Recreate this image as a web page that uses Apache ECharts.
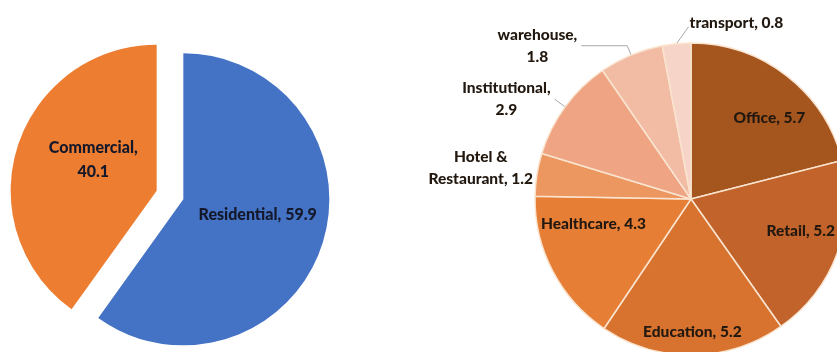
<!DOCTYPE html>
<html>
<head>
<meta charset="utf-8">
<script src="https://cdn.jsdelivr.net/npm/echarts@6/dist/echarts.min.js"></script>
<style>
  html, body { margin: 0; padding: 0; background: #ffffff; }
  #chart { width: 837px; height: 352px; }
</style>
</head>
<body>
<div id="chart"></div>
<script>
// Split of floor area by building sector
const sectorNames = ['Residential', 'Commercial'];
const sectorShares = [59.9, 40.1];
const sectorColors = ['#4472C4', '#ED7D31'];

// Commercial share broken down by building type
const typeNames = ['Office', 'Retail', 'Education', 'Healthcare', 'Hotel & Restaurant', 'Institutional', 'warehouse', 'transport'];
const typeShares = [5.7, 5.2, 5.2, 4.3, 1.2, 2.9, 1.8, 0.8];
const typeColors = ['#A5561F', '#C1632A', '#D8732F', '#E77E36', '#EC9660', '#EFA583', '#F1BCA3', '#F6D5C8'];
// true: label sits inside the slice, false: label sits outside with a leader line
const typeInside = [true, true, true, true, false, false, false, false];

const FONT = 'Lato, "Open Sans", sans-serif';
const WEIGHT = 900;
const TEXT_DARK = '#22180f';

// small label nudges (px) so the text sits in the open part of each slice
const sectorLabelNudge = [[2, -8], [9, -8]];
const typeLabelNudge = [[6, 12], [-1, -9], [0, 15], [7, -30], [0, -7], [0, 0], [0, 0], [0, 0]];

function labelLines(name, value, sep) {
  // outside labels are stacked over two lines where they are long
  if (name === 'Hotel & Restaurant') return ['Hotel &', 'Restaurant, ' + value];
  if (sep) return [name + ',', String(value)];
  return [name + ', ' + value];
}
const wrapOutside = { 'Hotel & Restaurant': false, 'Institutional': true, 'warehouse': true, 'transport': false };

// leader line lengths for the outside labels
const outsideLine = {
  'Hotel & Restaurant': { show: false, length: 0, length2: 0 },
  'Institutional': { show: true, length: 13, length2: 0 },
  'warehouse': { show: true, length: 10, length2: 46 },
  'transport': { show: true, length: 18, length2: 0 }
};

const chart = echarts.init(document.getElementById('chart'), null, { renderer: 'canvas' });

const leftPie = {
  type: 'pie',
  center: [170, 195],
  radius: 146,
  startAngle: 90,
  clockwise: true,
  selectedMode: 'multiple',
  selectedOffset: 14,
  silent: true,
  animation: false,
  itemStyle: { borderWidth: 0 },
  label: {
    show: true,
    position: 'inside',
    color: '#14182a',
    fontFamily: FONT,
    fontWeight: WEIGHT,
    fontSize: 16,
    lineHeight: 24,
    formatter: function (p) {
      return p.name === 'Commercial' ? p.name + ',\n' + p.value : p.name + ', ' + p.value;
    }
  },
  labelLine: { show: false },
  labelLayout: function (p) {
    const d = sectorLabelNudge[p.dataIndex];
    return { dx: d[0], dy: d[1] };
  },
  emphasis: { disabled: true },
  data: sectorNames.map(function (n, i) {
    return { name: n, value: sectorShares[i], selected: true, itemStyle: { color: sectorColors[i] } };
  })
};

const rightCenter = [691, 199];
const rightRadius = 156;

const rightPie = {
  type: 'pie',
  center: rightCenter,
  radius: rightRadius,
  startAngle: 90,
  clockwise: true,
  silent: true,
  animation: false,
  avoidLabelOverlap: false,
  itemStyle: { borderColor: '#FAE4CF', borderWidth: 1.5 },
  emphasis: { disabled: true },
  labelLine: { lineStyle: { color: '#A9A9A9', width: 1 } },
  labelLayout: function (p) {
    const name = typeNames[p.dataIndex];
    if (name === 'transport') {
      // put the transport label to the right of its leader line
      const pts = p.labelLinePoints;
      const x = pts[0][0] + 13;
      const y = pts[1][1] - 3;
      return {
        x: x, y: y, align: 'left', verticalAlign: 'middle',
        labelLinePoints: [pts[0], [x - 1, y + 4], [x - 1, y + 4]]
      };
    }
    const d = typeLabelNudge[p.dataIndex];
    if (d[0] === 0 && d[1] === 0) return {};
    return { dx: d[0], dy: d[1] };
  },
  data: typeNames.map(function (n, i) {
    const out = !typeInside[i];
    return {
      name: n,
      value: typeShares[i],
      itemStyle: { color: typeColors[i] },
      label: out ? {
        show: true,
        position: 'outside',
        distanceToLabelLine: 4,
        formatter: function (p) {
          return labelLines(p.name, p.value, wrapOutside[p.name]).map(function (s) {
            return '{c|' + s + '}';
          }).join('\n');
        },
        rich: {
          c: { align: 'center', color: TEXT_DARK, fontFamily: FONT, fontWeight: WEIGHT, fontSize: 15.5, lineHeight: 22 }
        }
      } : { show: false },
      labelLine: out ? outsideLine[n] : { show: false }
    };
  })
};

// transparent ring carrying the inside labels of the larger slices
const rightInsideLabels = {
  type: 'pie',
  center: rightCenter,
  radius: [74, rightRadius],
  startAngle: 90,
  clockwise: true,
  silent: true,
  animation: false,
  itemStyle: { color: 'rgba(0,0,0,0)', borderWidth: 0 },
  emphasis: { disabled: true },
  labelLine: { show: false },
  labelLayout: function (p) {
    const d = typeLabelNudge[p.dataIndex];
    return { dx: d[0], dy: d[1] };
  },
  data: typeNames.map(function (n, i) {
    return {
      name: n,
      value: typeShares[i],
      label: typeInside[i] ? {
        show: true,
        position: 'inside',
        color: TEXT_DARK,
        fontFamily: FONT,
        fontWeight: WEIGHT,
        fontSize: 15.5,
        formatter: '{b}, {c}'
      } : { show: false }
    };
  })
};

chart.setOption({
  animation: false,
  backgroundColor: '#ffffff',
  series: [leftPie, rightPie, rightInsideLabels]
});
</script>
</body>
</html>
